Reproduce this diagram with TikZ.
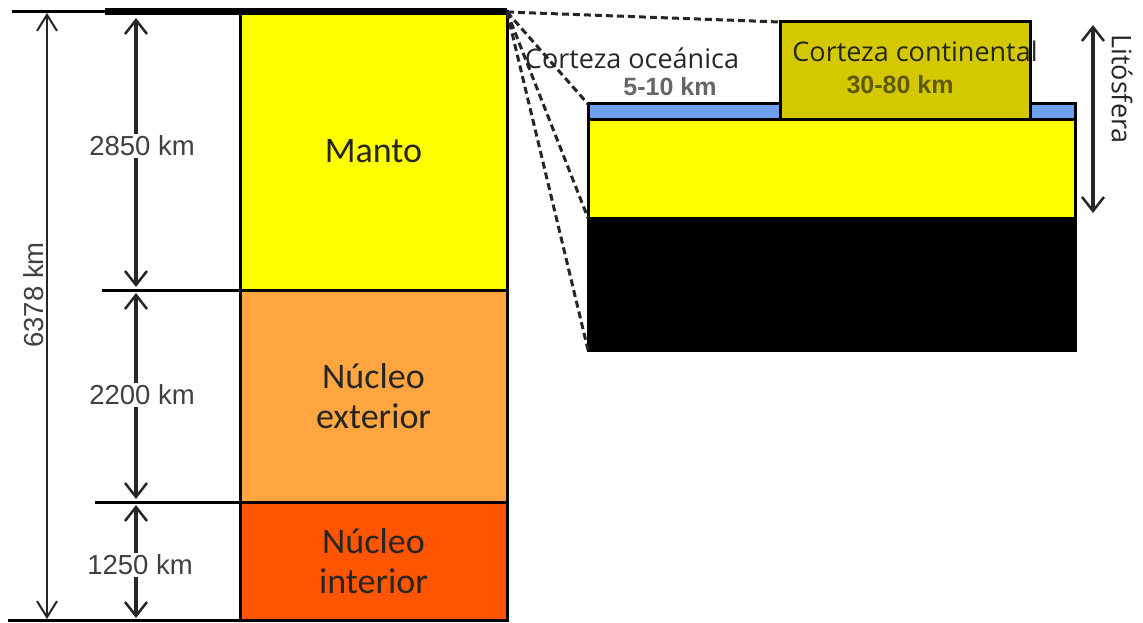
\documentclass[tikz,border=0pt]{standalone}
\usepackage{fontspec}
\setmainfont{Carlito}
\newfontfamily\kmfont{Liberation Sans}
\newfontfamily\labelfont{Open Sans}
\usetikzlibrary{arrows.meta,positioning}

\definecolor{mantoyellow}{RGB}{255,255,0}
\definecolor{outercore}{RGB}{255,166,64}
\definecolor{innercore}{RGB}{255,85,0}
\definecolor{oceanblue}{RGB}{110,160,240}
\definecolor{contolive}{RGB}{212,200,0}
\definecolor{kmgray}{RGB}{64,64,64}
\definecolor{kmolive}{RGB}{95,90,10}

\begin{document}
\begin{tikzpicture}[
        x=1pt, y=-1pt,
        layer/.style={rectangle, draw=black, line width=3pt, inner sep=0pt, outer sep=0pt, align=center,
            font=\fontsize{36}{40}\selectfont, text=black!85},
        slab/.style={rectangle, draw=black, line width=3pt, inner sep=0pt, outer sep=0pt, minimum width=487pt},
        tick/.style={line width=3pt},
        dimarrow/.style={{Straight Barb[length=14pt, width=22pt, line width=2.5pt]}-{Straight Barb[length=14pt, width=22pt, line width=2.5pt]}, line width=4pt, black!85},
        totalarrow/.style={{Straight Barb[length=16pt, width=20pt, line width=2pt]}-{Straight Barb[length=16pt, width=20pt, line width=2pt]}, line width=2.5pt, black!85},
        kmlabel/.style={font=\kmfont\fontsize{27.5}{30}\selectfont, text=kmgray, fill=white, inner sep=2pt},
        crustlabel/.style={font=\labelfont\fontsize{27}{30}\selectfont, text=black!85, inner sep=0pt},
        crustkm/.style={font=\kmfont\bfseries\fontsize{25}{27}\selectfont, inner sep=0pt},
        zoomline/.style={line width=3pt, dash pattern=on 7pt off 4pt, black!85}
    ]
        \useasboundingbox (0,0) rectangle (1143,623);

        % Earth layers
        \node[layer, fill=mantoyellow, minimum width=267pt, minimum height=278pt] (manto) at (373.5,151) {Manto};
        \node[layer, fill=outercore, minimum width=267pt, minimum height=212pt, below=0pt of manto] (exterior) {N\'ucleo\\exterior};
        \node[layer, fill=innercore, minimum width=267pt, minimum height=118pt, below=0pt of exterior] (interior) {N\'ucleo\\interior};

        % Reference lines
        \coordinate (topleft) at (12,12);
        \coordinate (topstep) at (105,12);
        \coordinate (tickA) at (102,290);
        \coordinate (tickB) at (95,502);
        \coordinate (botleft) at (8,620);
        \draw[tick] (topleft) -- (topstep);
        \draw[line width=7pt] (topstep) -- (manto.north east);
        \draw[tick] (tickA) -- (manto.south west);
        \draw[tick] (tickB) -- (exterior.south west);
        \draw[tick] (botleft) -- (interior.south east);

        % Depth arrows
        \coordinate (totaltop) at (47,13);
        \coordinate (totalbot) at (47,619);
        \draw[totalarrow] (totaltop) -- (totalbot);
        \node[kmlabel, fill=none, rotate=90] (total) at (34,295) {6378 km};

        \coordinate (mantotop) at (136,18);
        \coordinate (mantobot) at (136,287);
        \coordinate (extop) at (136,293);
        \coordinate (exbot) at (136,499);
        \coordinate (intop) at (136,505);
        \coordinate (inbot) at (136,618);
        \draw[dimarrow] (mantotop) -- (mantobot);
        \draw[dimarrow] (extop) -- (exbot);
        \draw[dimarrow] (intop) -- (inbot);
        \node[kmlabel] (dmanto) at (142,146) {2850 km};
        \node[kmlabel] (dexterior) at (142,395) {2200 km};
        \node[kmlabel] (dinterior) at (140,565) {1250 km};

        % Lithosphere close-up
        \node[slab, fill=oceanblue, minimum height=16pt] (ocean) at (831.5,112) {};
        \node[slab, fill=mantoyellow, minimum height=98pt, below=0pt of ocean] (uppermanto) {};
        \node[slab, fill=black, minimum height=132pt, below=0pt of uppermanto] (deep) {};
        \node[slab, fill=contolive, minimum width=250pt, minimum height=98pt] (continent) at (905,71) {};

        % Zoom lines
        \draw[zoomline] (manto.north east) -- (continent.north west);
        \draw[zoomline] (manto.north east) -- (ocean.north west);
        \draw[zoomline] (manto.north east) -- (uppermanto.south west);
        \draw[zoomline] (manto.north east) -- (deep.south west);

        % Crust labels
        \node[crustlabel] (oceanname) at (632,58) {Corteza oce\'anica};
        \node[crustkm, text=black!60] (oceankm) at (670,87) {5-10 km};
        \node[crustlabel] (contname) at (915,51) {Corteza continental};
        \node[crustkm, text=kmolive] (contkm) at (900,85) {30-80 km};

        % Lithosphere arrow
        \coordinate (litotop) at (1093,25);
        \coordinate (litobot) at (1093,213);
        \draw[dimarrow] (litotop) -- (litobot);
        \node[crustlabel, rotate=-90] (lito) at (1122,89) {Lit\'osfera};
    \end{tikzpicture}
\end{document}
